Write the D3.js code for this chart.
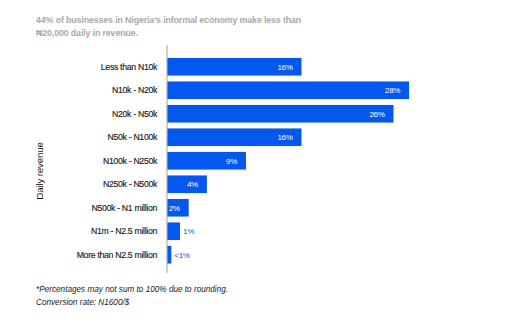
<!DOCTYPE html>
<html><head><meta charset="utf-8">
<script src="https://cdn.jsdelivr.net/npm/d3@7"></script>
<style>
html,body{margin:0;padding:0;background:#fff;}
svg{display:block;font-family:"Liberation Sans",Arial,sans-serif;}
</style></head>
<body><svg id="c" width="525" height="334"></svg>
<script>
const categories = ["Less than N10k","N10k - N20k","N20k - N50k","N50k - N100k","N100k - N250k","N250k - N500k","N500k - N1 million","N1m - N2.5 million","More than N2.5 million"];
const values = [15.5, 27.9, 26.1, 15.5, 9.1, 4.6, 2.5, 1.5, 0.5];
const valueLabels = ["16%","28%","26%","16%","9%","4%","2%","1%","<1%"];
const titleLines = ["44% of  businesses in Nigeria\u2019s informal economy make less than","\u20A620,000 daily in revenue."];
const footLines = ["*Percentages may not sum to 100% due to rounding.","Conversion rate: N1600/$"];

const svg = d3.select("#c");
const blue = "#0558ee";
const x = d3.scaleLinear().domain([0, 28]).range([167, 410]);
const y = d3.scaleBand().domain(categories).range([55, 266.5]).paddingInner(0.25).paddingOuter(0.125);

// title
svg.append("g").selectAll("text").data(titleLines).join("text")
  .attr("x", 36).attr("y", (d,i)=>23 + i*13)
  .attr("fill", "#a9a9ab").attr("font-size", 8.9).attr("font-weight", "bold")
  .attr("letter-spacing", -0.15)
  .text(d=>d);

// bars
svg.append("g").selectAll("rect").data(values).join("rect")
  .attr("x", x(0)).attr("y", (d,i)=>y(categories[i]))
  .attr("width", d=>x(d)-x(0)).attr("height", y.bandwidth())
  .attr("fill", blue);

// axis
const yAxis = d3.axisLeft(y).tickSize(0).tickPadding(10);
const ag = svg.append("g").attr("transform", `translate(${x(0)},0)`).call(yAxis);
ag.select(".domain").remove();
ag.selectAll("text").attr("font-size", 8.7).attr("fill", "#1a1a1a").attr("letter-spacing", -0.3)
  .attr("stroke", "#1a1a1a").attr("stroke-width", 0.15);
svg.append("line").attr("x1", x(0)).attr("x2", x(0)).attr("y1", 45).attr("y2", 273)
  .attr("stroke", "#b0b0b0").attr("stroke-width", 1.2);

// value labels
svg.append("g").selectAll("text").data(values).join("text")
  .each(function(d,i){
    const w = x(d)-x(0);
    const inside = w > 18;
    d3.select(this)
      .attr("x", inside ? x(d) - 9 : x(d) + 3)
      .attr("text-anchor", inside ? "end" : "start")
      .attr("fill", inside ? "#ffffff" : blue);
  })
  .attr("y", (d,i)=>y(categories[i]) + y.bandwidth()/2)
  .attr("dy", "0.35em").attr("font-size", 8).attr("letter-spacing", -0.3)
  .text((d,i)=>valueLabels[i]);

// y axis title
svg.append("text").attr("transform", "translate(43,171) rotate(-90)")
  .attr("text-anchor", "middle").attr("font-size", 9.8).attr("fill", "#1a1a1a")
  .attr("letter-spacing", -0.2).text("Daily revenue");

// footnote
svg.append("g").selectAll("text").data(footLines).join("text")
  .attr("x", 36).attr("y", (d,i)=>292 + i*13)
  .attr("font-size", 8.2).attr("font-style", "italic").attr("fill", "#1a1a1a")
  .text(d=>d);
</script></body></html>
